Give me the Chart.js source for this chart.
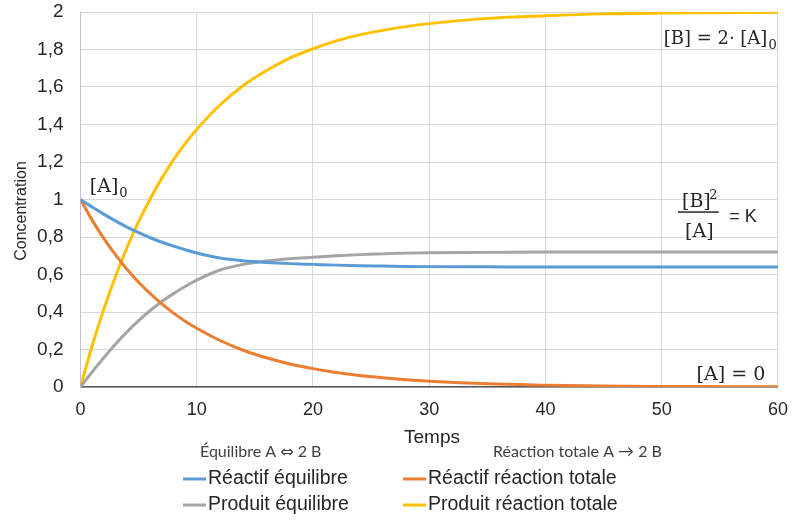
<!DOCTYPE html>
<html><head><meta charset="utf-8">
<script src="https://cdn.jsdelivr.net/npm/chart.js@4"></script>
<style>html,body{margin:0;padding:0;background:#fff}canvas{display:block}</style>
</head><body>
<canvas id="c" width="800" height="520"></canvas>
<script>
// ---- data ----
const times = [0,1,2,3,4,5,6,7,8,9,10,12,14,16,18,20,22,24,26,28,30,35,40,45,50,55,60];
const reactifEquilibre = [1.0,0.960,0.922,0.886,0.853,0.823,0.796,0.772,0.751,0.732,0.715,0.688,0.673,0.664,0.658,0.654,0.650,0.647,0.645,0.643,0.642,0.641,0.640,0.640,0.640,0.640,0.640];
const produitEquilibre = [0,0.080,0.156,0.228,0.294,0.354,0.408,0.456,0.498,0.536,0.570,0.624,0.654,0.672,0.684,0.692,0.700,0.706,0.710,0.714,0.716,0.718,0.720,0.720,0.720,0.720,0.720];
const reactifTotale = [1.0,0.890,0.793,0.706,0.628,0.559,0.498,0.443,0.394,0.351,0.313,0.248,0.196,0.156,0.123,0.098,0.077,0.061,0.049,0.039,0.031,0.017,0.010,0.005,0.003,0.002,0.001];
const produitTotale = [0,0.220,0.414,0.588,0.744,0.882,1.004,1.114,1.212,1.298,1.374,1.504,1.608,1.688,1.754,1.804,1.846,1.878,1.902,1.922,1.938,1.966,1.980,1.990,1.994,1.996,1.998];
const seriesLabels = ['Réactif équilibre','Réactif réaction totale','Produit équilibre','Produit réaction totale'];
const seriesColors = ['#5b9bd5','#ed7d31','#a5a5a5','#ffc000'];
const legendHeaders = ['Équilibre A \u21D4 2 B','Réaction totale A \u2192 2 B'];
const xTitle = 'Temps';
const yTitle = 'Concentration';

const pts = arr => times.map((t,i)=>({x:t,y:arr[i]}));
const seriesData = [reactifEquilibre, reactifTotale, produitEquilibre, produitTotale];

const SERIF = '"DejaVu Serif", "Liberation Serif", serif';
const SANS = '"Liberation Sans", Arial, sans-serif';

function subText(ctx, x, y, main, sub, size, align){
  ctx.font = size+'px '+SERIF;
  const w1 = ctx.measureText(main).width;
  ctx.font = Math.round(size*0.7)+'px '+SERIF;
  const w2 = ctx.measureText(sub).width;
  let x0 = align==='right' ? x - w1 - w2 : x;
  ctx.font = size+'px '+SERIF; ctx.textAlign='left';
  ctx.fillText(main, x0, y);
  ctx.font = Math.round(size*0.7)+'px '+SERIF;
  ctx.fillText(sub, x0+w1+1, y+5);
}

const extras = {
  id:'extras',
  afterDraw(chart){
    const ctx = chart.ctx, xs = chart.scales.x, ys = chart.scales.y;
    ctx.save();
    ctx.fillStyle = '#262626';
    ctx.textBaseline = 'alphabetic';
    // [A]0
    subText(ctx, xs.getPixelForValue(0.8), ys.getPixelForValue(1.04), '[A]', '0', 19, 'left');
    // [B] = 2· [A]0
    subText(ctx, xs.getPixelForValue(59.8), ys.getPixelForValue(1.83), '[B] = 2\u00B7 [A]', '0', 18, 'right');
    // fraction
    const fx0 = xs.getPixelForValue(51.4), fx1 = xs.getPixelForValue(54.9), fy = ys.getPixelForValue(0.933);
    ctx.fillRect(fx0, fy-0.75, fx1-fx0, 1.5);
    ctx.font = '19px '+SERIF; ctx.textAlign='center';
    const cx = (fx0+fx1)/2;
    ctx.fillText('[B]', cx-2, fy-5);
    ctx.font = '13px '+SERIF; ctx.textAlign='left';
    ctx.fillText('2', cx+11, fy-13);
    ctx.font = '19px '+SERIF; ctx.textAlign='center';
    ctx.fillText('[A]', cx+1, fy+25);
    ctx.font = '18px '+SANS; ctx.textAlign='left';
    ctx.fillText('= K', xs.getPixelForValue(55.8), fy+10);
    // [A] = 0
    ctx.font = '19px '+SERIF; ctx.textAlign='left';
    ctx.fillText('[A] = 0', xs.getPixelForValue(53), ys.getPixelForValue(0.035));

    // axis titles
    ctx.fillStyle = '#262626';
    ctx.font = '19px '+SANS; ctx.textAlign='center'; ctx.textBaseline='middle';
    ctx.fillText(xTitle, 432, 438);
    ctx.save();
    ctx.translate(22, 211); ctx.rotate(-Math.PI/2);
    ctx.font = '16px '+SANS;
    ctx.fillText(yTitle, 0, 0);
    ctx.restore();

    // legend headers
    ctx.font = '16px Lato, "DejaVu Sans", sans-serif'; ctx.textAlign='left'; ctx.fillStyle='#404040';
    ctx.fillText(legendHeaders[0], 200, 452);
    ctx.fillText(legendHeaders[1], 493, 452);
    // legend items: 2 columns
    const cols = [183, 403], rows = [479, 505];
    chart.data.datasets.forEach((ds, i) => {
      const col = i % 2, row = Math.floor(i/2);
      const lx = cols[col], ly = rows[row];
      ctx.strokeStyle = ds.borderColor; ctx.lineWidth = 3;
      ctx.beginPath(); ctx.moveTo(lx, ly); ctx.lineTo(lx+23, ly); ctx.stroke();
      ctx.fillStyle = '#262626';
      ctx.font = '19.5px '+SANS;
      ctx.fillText(ds.label, lx+25, ly);
    });
    ctx.restore();
  }
};

new Chart(document.getElementById('c'), {
  type:'line',
  data:{
    datasets: seriesData.map((arr,i)=>({
      label: seriesLabels[i],
      data: pts(arr),
      borderColor: seriesColors[i],
      backgroundColor: seriesColors[i],
      borderWidth: 3,
      pointRadius: 0,
      cubicInterpolationMode: 'monotone',
      fill:false
    }))
  },
  options:{
    responsive:false, animation:false, devicePixelRatio:1,
    layout:{padding:{left:0,right:20,top:0,bottom:0}},
    plugins:{legend:{display:false}, tooltip:{enabled:false}},
    scales:{
      x:{type:'linear', min:0, max:60,
        ticks:{stepSize:10, padding:12, color:'#262626', font:{family:SANS, size:18}, maxRotation:0},
        grid:{color:'#d9d9d9', drawTicks:false, lineWidth:1},
        border:{color:'#595959', width:1.5},
        afterFit(s){ s.height = 133; }
      },
      y:{min:0, max:2,
        ticks:{stepSize:0.2, padding:17, color:'#262626', font:{family:SANS, size:19},
          callback:v=>String(Math.round(v*10)/10).replace('.',',')},
        grid:{color:'#d9d9d9', drawTicks:false, lineWidth:1},
        border:{color:'#cbbfd6', width:1},
        afterFit(s){ s.width = 80.5; s.paddingTop = 12; s.paddingBottom = 0; }
      }
    }
  },
  plugins:[extras]
});
</script>
</body></html>
